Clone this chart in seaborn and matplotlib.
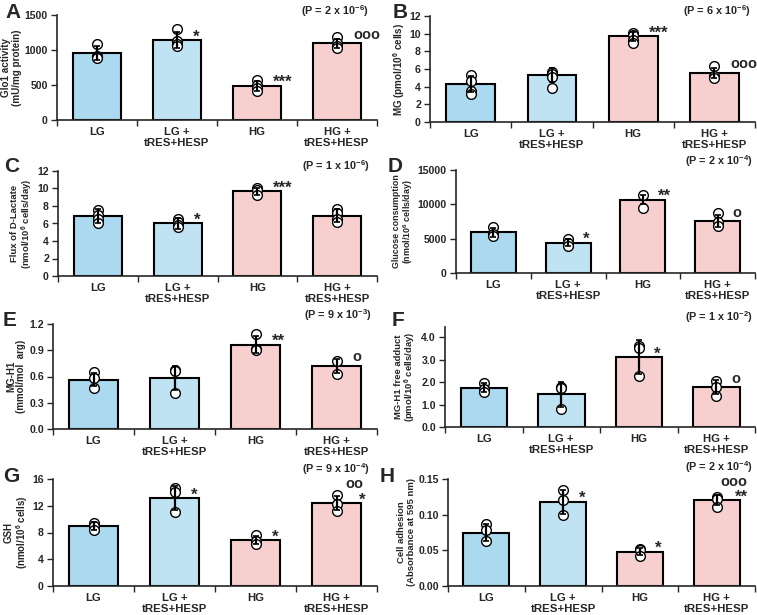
import numpy as np
import pandas as pd
import matplotlib
matplotlib.use("Agg")
import matplotlib.pyplot as plt
from matplotlib.ticker import FormatStrFormatter, FixedLocator
import seaborn as sns

sns.set_style("ticks")
plt.rcParams["font.family"] = ["Liberation Sans", "DejaVu Sans"]
plt.rcParams["font.weight"] = "bold"
plt.rcParams["axes.labelweight"] = "bold"
plt.rcParams["mathtext.default"] = "regular"

# groups and colours
groups = ["LG", "LG +\ntRES+HESP", "HG", "HG +\ntRES+HESP"]
colors = ["#9fddfb", "#b8e6fb", "#ffc8c8", "#ffc8c8"]

# A - Glo1 activity
glo1_mean = [950, 1140, 490, 1095]
glo1_err = [100, 110, 70, 60]
glo1_pts = [[1090, 920, 900, 880], [1300, 1130, 1080, 1050], [570, 500, 450, 420], [1190, 1100, 1060, 1030]]
glo1_sig = ["", "*", "***", "ooo"]

# B - MG
mg_mean = [4.3, 5.3, 9.7, 5.55]
mg_err = [0.9, 0.8, 0.5, 0.6]
mg_pts = [[5.3, 4.6, 3.5, 3.2], [5.7, 5.4, 5.1, 3.8], [10.1, 9.9, 9.3, 8.9], [6.3, 5.2, 5.0]]
mg_sig = ["", "", "***", "ooo"]

# C - D-lactate flux
dlac_mean = [6.8, 6.0, 9.7, 6.9]
dlac_err = [0.8, 0.6, 0.4, 0.7]
dlac_pts = [[7.5, 7.0, 6.5, 6.1], [6.5, 6.2, 5.8, 5.6], [10.0, 9.8, 9.2], [7.7, 7.2, 6.5, 6.2]]
dlac_sig = ["", "*", "***", ""]

# D - glucose consumption
gluc_mean = [5900, 4400, 10700, 7600]
gluc_err = [600, 500, 700, 900]
gluc_pts = [[6700, 5700, 5400], [4900, 4300, 4000], [11400, 9400], [8700, 7400, 6800]]
gluc_sig = ["", "*", "**", "o"]

# E - MG-H1
mgh1_mean = [0.565, 0.585, 0.965, 0.725]
mgh1_err = [0.07, 0.14, 0.1, 0.08]
mgh1_pts = [[0.65, 0.58, 0.47], [0.68, 0.66, 0.41], [1.09, 0.91, 0.90], [0.78, 0.63]]
mgh1_sig = ["", "", "**", "o"]

# F - MG-H1 free adduct
free_mean = [1.75, 1.45, 3.12, 1.78]
free_err = [0.2, 0.55, 0.75, 0.3]
free_pts = [[1.95, 1.7, 1.55], [1.8, 1.75, 0.8], [3.6, 3.5, 2.25], [2.05, 1.8, 1.4]]
free_sig = ["", "", "*", "o"]

# G - GSH
gsh_mean = [8.9, 13.1, 6.85, 12.4]
gsh_err = [0.6, 1.8, 0.6, 1.1]
gsh_pts = [[9.4, 8.9, 8.3], [14.6, 14.0, 11.0], [7.6, 6.8, 6.3], [13.6, 12.2, 11.2]]
gsh_sig = ["", "*", "*", "oo\n*"]

# H - cell adhesion
adh_mean = [0.075, 0.118, 0.048, 0.120]
adh_err = [0.012, 0.017, 0.005, 0.007]
adh_pts = [[0.087, 0.078, 0.063], [0.135, 0.120, 0.100], [0.052, 0.050, 0.042], [0.125, 0.122, 0.111]]
adh_sig = ["", "*", "*", "ooo\n**"]

W, H = 757, 615
fig = plt.figure(figsize=(W / 100, H / 100), dpi=100)


def px_axes(l, t, r, b):
    return fig.add_axes([l / W, 1 - b / H, (r - l) / W, (b - t) / H])


panels = [
    # letter, box (l,t,r,b), letter pos, p-text pos, ylabel, ylabel size, ymax, ticks, fmt, p text, data
    ("A", (57, 15, 377, 120), (13, 13), (369, 11), "Glo1 activity\n(mU/mg protein)", 7.1,
     1500, np.arange(0, 1501, 500), "%d", "(P = 2 x 10$^{-6}$)", glo1_mean, glo1_err, glo1_pts, glo1_sig),
    ("B", (430, 16, 755, 122), (400, 13), (751, 11), "MG (pmol/10$^{6}$ cells)", 7.1,
     12, np.arange(0, 13, 2), "%d", "(P = 6 x 10$^{-6}$)", mg_mean, mg_err, mg_pts, mg_sig),
    ("C", (58, 171, 377, 276), (12, 167), (370, 166), "Flux of D-Lactate\n(nmol/10$^{6}$ cells/day)", 6.8,
     12, np.arange(0, 13, 2), "%d", "(P = 1 x 10$^{-6}$)", dlac_mean, dlac_err, dlac_pts, dlac_sig),
    ("D", (456, 170, 755, 273), (395, 166), (753, 161), "Glucose consumption\n(nmol/10$^{6}$ cells/day)", 6.4,
     15000, np.arange(0, 15001, 5000), "%d", "(P = 2 x 10$^{-4}$)", gluc_mean, gluc_err, gluc_pts, gluc_sig),
    ("E", (53, 324, 377, 429), (10, 321), (372, 315), "MG-H1\n(mmol/mol  arg)", 7.0,
     1.2, np.arange(0, 1.21, 0.3), "%.1f", "(P = 9 x 10$^{-3}$)", mgh1_mean, mgh1_err, mgh1_pts, mgh1_sig),
    ("F", (445, 327, 755, 427), (398, 320), (753, 317), "MG-H1 free adduct\n(pmol/10$^{6}$ cells/day)", 6.8,
     4.45, np.arange(0, 4.01, 1.0), "%.1f", "(P = 1 x 10$^{-2}$)", free_mean, free_err, free_pts, free_sig),
    ("G", (53, 479, 377, 586), (11, 476), (370, 469), "GSH\n(nmol/10$^{6}$ cells)", 7.0,
     16, np.arange(0, 17, 4), "%d", "(P = 9 x 10$^{-4}$)", gsh_mean, gsh_err, gsh_pts, gsh_sig),
    ("H", (448, 479, 755, 586), (387, 476), (753, 467), "Cell adhesion\n(Absorbance at 595 nm)", 6.8,
     0.15, np.arange(0, 0.151, 0.05), "%.2f", "(P = 2 x 10$^{-4}$)", adh_mean, adh_err, adh_pts, adh_sig),
]

for (letter, box, lpos, ppos, ylabel, ylsize, ymax, yticks, fmt, ptext,
     means, errs, pts, sigs) in panels:
    ax = px_axes(*box)
    bar_df = pd.DataFrame({"group": groups, "value": means})
    sns.barplot(data=bar_df, x="group", y="value", hue="group", order=groups,
                palette=colors, width=0.6, edgecolor="black", linewidth=1.5,
                errorbar=None, legend=False, ax=ax, zorder=1)
    pt_df = pd.DataFrame({"group": [g for g, p in zip(groups, pts) for _ in p],
                          "value": [v for p in pts for v in p]})
    sns.stripplot(data=pt_df, x="group", y="value", order=groups, jitter=False,
                  color="white", edgecolor="black", linewidth=1, size=7,
                  ax=ax, zorder=3)
    ax.errorbar(np.arange(4), means, yerr=errs, fmt="none", ecolor="black",
                elinewidth=1.6, capsize=2.5, capthick=1.2, zorder=4)
    # significance marks
    for i, s in enumerate(sigs):
        if not s:
            continue
        lines = s.split("\n")
        if len(lines) == 1:
            is_star = "*" in s
            ax.text(i + 0.2, means[i] + (0.03 if is_star else 0.08) * ymax, s,
                    ha="left", va="center", fontsize=12 if is_star else 10.5,
                    fontweight="bold")
        else:
            # stacked: stars just above the bar, circles above them
            ax.text(i + 0.32, means[i] + 0.03 * ymax, lines[1], ha="center", va="center",
                    fontsize=12, fontweight="bold")
            ax.text(i + 0.22, means[i] + 0.175 * ymax, lines[0], ha="center", va="center",
                    fontsize=10.5, fontweight="bold")
    ax.set_xlim(-0.5, 3.5)
    ax.set_ylim(0, ymax)
    ax.set_yticks(yticks)
    ax.yaxis.set_major_formatter(FormatStrFormatter(fmt))
    ax.set_xlabel("")
    ax.set_ylabel(ylabel, fontsize=ylsize, fontweight="bold", labelpad=2, linespacing=1.05)
    ax.tick_params(axis="y", labelsize=7.6, length=4, width=1, direction="out", pad=2.5)
    ax.tick_params(axis="x", which="major", labelsize=8.2, length=0, pad=5)
    ax.xaxis.set_minor_locator(FixedLocator([-0.5, 0.5, 1.5, 2.5, 3.5]))
    ax.tick_params(axis="x", which="minor", length=4, width=1)
    for lab in ax.get_xticklabels() + ax.get_yticklabels():
        lab.set_fontweight("bold")
        lab.set_linespacing(1.1)
    sns.despine(ax=ax)
    for sp in ("left", "bottom"):
        ax.spines[sp].set_linewidth(1.2)
    fig.text(lpos[0] / W, 1 - lpos[1] / H, letter, fontsize=15, fontweight="bold",
             ha="center", va="center")
    fig.text(ppos[0] / W, 1 - ppos[1] / H, ptext, fontsize=7.8, fontweight="bold",
             ha="right", va="center")

fig.savefig("out.png", dpi=100)
